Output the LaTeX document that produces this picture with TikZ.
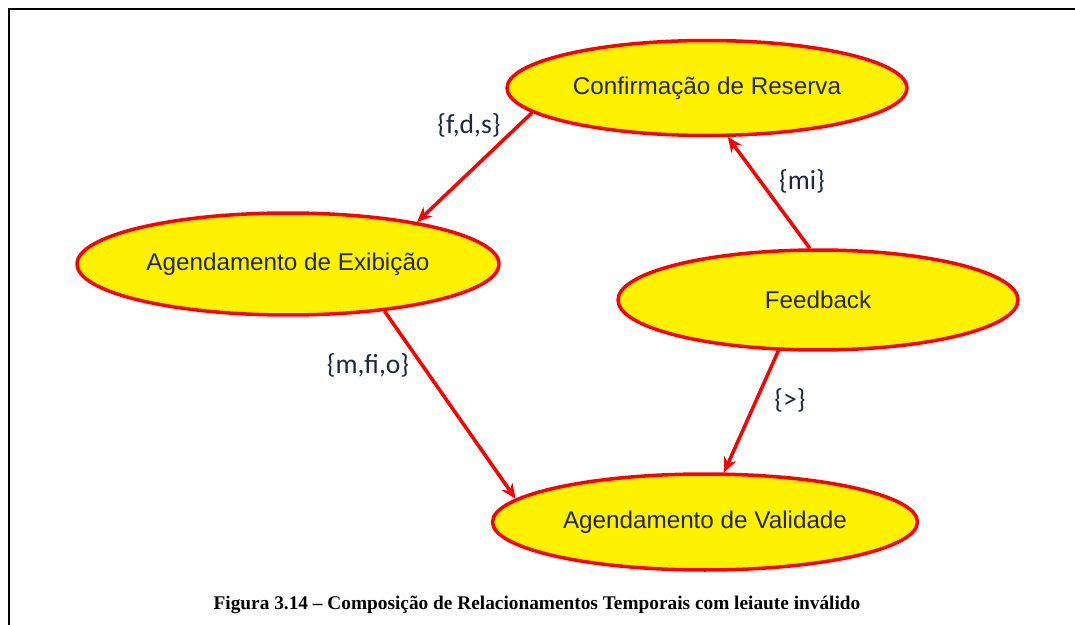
\documentclass[tikz,border=0pt]{standalone}
\usepackage{fontspec}
\setmainfont{Liberation Serif}
\setsansfont{Liberation Sans}
\newfontfamily\lblfont{Carlito}
\usepackage{xcolor}
\usetikzlibrary{arrows.meta,positioning,shapes.geometric}
\definecolor{lblblue}{RGB}{30,38,70}
\tikzset{
  evt/.style={ellipse,draw=red,line width=2pt,fill=yellow,inner sep=0pt,font=\sffamily\fontsize{13.8}{15}\selectfont,text=black!85},
  rel/.style={font=\lblfont\fontsize{15.7}{17}\selectfont,text=lblblue},
  arr/.style={-{Stealth[length=3mm,width=2.6mm]},red,line width=2pt},
}
\begin{document}
\begin{tikzpicture}[x=0.02cm,y=-0.02cm]
\useasboundingbox (0,0) rectangle (1075,625);
\draw[line width=1.1pt] (9,625) -- (9,9) -- (1075,9);
\node[evt,minimum width=8cm,minimum height=1.9cm] (conf) at (707,88) {Confirmação de Reserva};
\node[evt,minimum width=8.44cm,minimum height=2.04cm] (exib) at (288,264) {Agendamento de Exibição};
\node[evt,minimum width=8cm,minimum height=2cm] (feed) at (818,300) {Feedback};
\node[evt,minimum width=8.5cm,minimum height=1.92cm] (valid) at (705,522) {Agendamento de Validade};
\draw[arr] (conf.188) -- (exib.18);
\draw[arr] (exib.-26) -- (valid.173);
\draw[arr] (feed.99) -- (conf.-67);
\draw[arr] (feed.232) -- (valid.69);
\node[rel] (fds) at (469,125) {\{f,d,s\}};
\node[rel] (mfio) at (368,365) {\{m,fi,o\}};
\node[rel] (mi) at (802,181) {\{mi\}};
\node[rel] (gt) at (790,400) {\{>\}};
\node[font=\bfseries\fontsize{11}{13}\selectfont] (cap) at (537,605) {Figura 3.14 – Composição de Relacionamentos Temporais com leiaute inválido};
\end{tikzpicture}
\end{document}
